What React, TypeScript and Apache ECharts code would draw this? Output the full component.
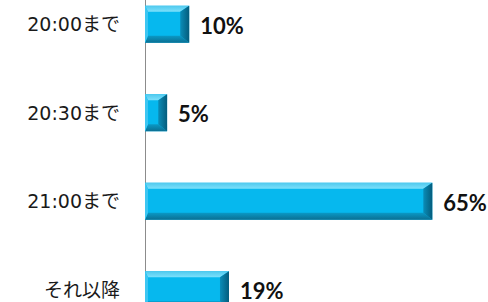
import React, { useEffect, useRef } from "react";
import * as echarts from "echarts";

const categories = ["20:00まで", "20:30まで", "21:00まで", "それ以降"];
const values = [10, 5, 65, 19];

export default function App() {
  const ref = useRef<HTMLDivElement>(null);
  useEffect(() => {
    if (!ref.current) return;
    const chart = echarts.init(ref.current, null, { renderer: "svg" });
    const renderItem = (params: any, api: any) => {
      const v = api.value(0);
      const c = api.value(1);
      const start = api.coord([0, c]);
      const end = api.coord([v, c]);
      const h = api.size([0, 1])[1] * 0.418;
      const x0 = start[0];
      const x1 = end[0];
      const yc = start[1];
      const y0 = yc - h / 2;
      const y1 = yc + h / 2;
      const w = x1 - x0;
      const t = 6;
      const b = 7;
      const r = Math.min(9, w / 2.5);
      const l = Math.min(3, w / 6);
      return {
        type: "group",
        children: [
          { type: "rect", shape: { x: x0, y: y0, width: w, height: h }, style: { fill: "#06B8EE" } },
          {
            type: "polygon",
            shape: { points: [[x0, y0], [x1, y0], [x1 - r, y0 + t], [x0 + l, y0 + t]] },
            style: { fill: new echarts.graphic.LinearGradient(0, 0, 0, 1, [{ offset: 0, color: "#4FC9EE" }, { offset: 1, color: "#7CE0FB" }]) },
          },
          {
            type: "polygon",
            shape: { points: [[x0, y1], [x1, y1], [x1 - r, y1 - b], [x0 + l, y1 - b]] },
            style: { fill: new echarts.graphic.LinearGradient(0, 0, 0, 1, [{ offset: 0, color: "#0A99C6" }, { offset: 1, color: "#0B6F92" }]) },
          },
          {
            type: "polygon",
            shape: { points: [[x1, y0], [x1, y1], [x1 - r, y1 - b], [x1 - r, y0 + t]] },
            style: { fill: new echarts.graphic.LinearGradient(0, 0, 1, 0, [{ offset: 0, color: "#0A8DB8" }, { offset: 1, color: "#045C7C" }]) },
          },
          {
            type: "polygon",
            shape: { points: [[x0, y0], [x0, y1], [x0 + l, y1 - b], [x0 + l, y0 + t]] },
            style: { fill: "#3CC6F2" },
          },
          {
            type: "text",
            style: {
              text: v + "%",
              x: x1 + 11,
              y: yc + 1,
              verticalAlign: "middle",
              align: "left",
              fill: "#111",
              font: "bold 22px Lato",
            },
          },
        ],
      };
    };
    chart.setOption({
      animation: false,
      grid: { left: 145, top: 40, height: 354, right: 488 - 145 - 4.42 * 70 },
      xAxis: {
        type: "value",
        min: 0,
        max: 70,
        show: false,
      },
      yAxis: {
        type: "category",
        data: categories,
        inverse: true,
        axisLine: { show: true, lineStyle: { color: "#8c8c8c", width: 1 } },
        axisTick: { show: false },
        axisLabel: {
          margin: 25,
          fontSize: 19,
          color: "#1a1a1a",
          fontFamily: "'DejaVu Sans', 'Noto Sans CJK JP'",
        },
      },
      series: [
        {
          type: "custom",
          renderItem,
          encode: { x: 0, y: 1 },
          data: values.map((v, i) => [v, i]),
        },
      ],
    });
    return () => chart.dispose();
  }, []);
  return (
    <div style={{ position: "fixed", left: 0, top: 0, width: 488, height: 302, overflow: "hidden", background: "#fff" }}>
      <div ref={ref} style={{ position: "absolute", left: 0, top: -60, width: 488, height: 420 }} />
    </div>
  );
}
